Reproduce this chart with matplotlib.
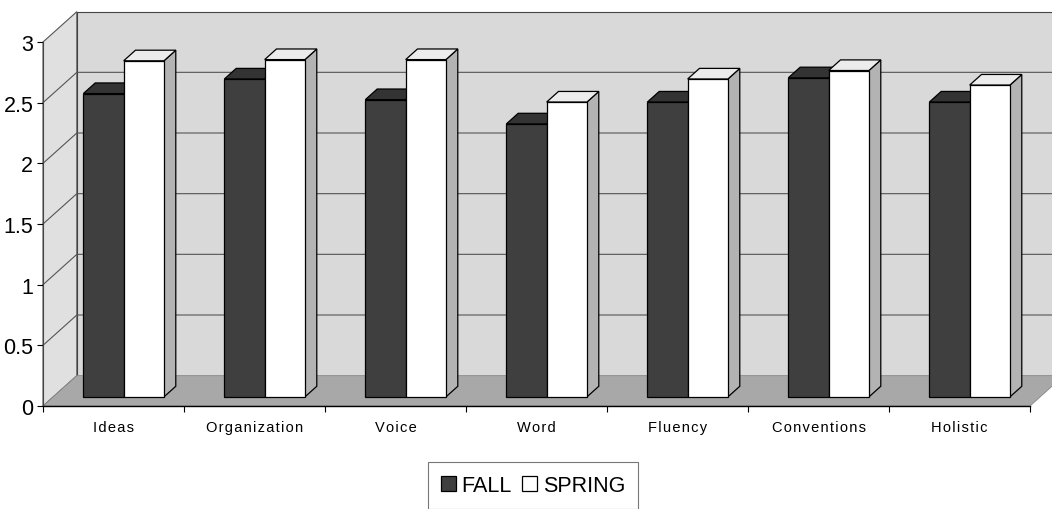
import matplotlib.pyplot as plt
from matplotlib.patches import Polygon, Patch

categories = ['Ideas', 'Organization', 'Voice', 'Word', 'Fluency', 'Conventions', 'Holistic']
fall = [2.50, 2.62, 2.45, 2.25, 2.43, 2.63, 2.43]
spring = [2.77, 2.78, 2.78, 2.43, 2.62, 2.69, 2.57]
yticks = [0, 0.5, 1, 1.5, 2, 2.5, 3]
ytick_labels = ['0', '0.5', '1', '1.5', '2', '2.5', '3']

DX, DY = 0.24, 0.25          # oblique depth offset (category units, value units)
Z0, Z1 = 0.30, 0.65          # bar depth span
W = 1 / 3.5                  # bar width, gap width 150%
YMAX = 3

plt.rcParams['font.family'] = ['Liberation Sans', 'DejaVu Sans']

def P(x, y, z):
    return (x + z * DX, y + z * DY)

def poly(ax, pts, fc, ec='black', lw=0.9, z=2):
    ax.add_patch(Polygon([P(*p) for p in pts], closed=True, fc=fc, ec=ec, lw=lw, zorder=z, clip_on=False))

fig = plt.figure(figsize=(10.52, 5.10), dpi=100)
ax = fig.add_axes([43 / 1052, 103 / 510, 987 / 1052, 364 / 510])
n = len(categories)
ax.set_xlim(0, n); ax.set_ylim(0, YMAX)

# walls and floor
poly(ax, [(0, 0, 0), (0, 0, 1), (0, YMAX, 1), (0, YMAX, 0)], '#e0e0e0', ec='#555555', lw=0.8, z=0.5)
poly(ax, [(0, 0, 1), (n, 0, 1), (n, YMAX, 1), (0, YMAX, 1)], '#d9d9d9', ec='#444444', lw=0.8, z=0.5)
for y in yticks[1:-1]:
    xs, ys = zip(P(0, y, 0), P(0, y, 1), P(n, y, 1))
    ax.plot(xs, ys, color='#555555', lw=0.8, zorder=0.8, clip_on=False)
poly(ax, [(0, 0, 0), (n, 0, 0), (n, 0, 1), (0, 0, 1)], '#a8a8a8', ec='#888888', lw=0.6, z=1)

# bars
for i in range(n):
    c = i + 0.5
    for x0, v, front, top, side in [(c - W, fall[i], '#3f3f3f', '#333333', '#2a2a2a'),
                                    (c, spring[i], '#ffffff', '#ececec', '#b3b3b3')]:
        x1 = x0 + W
        poly(ax, [(x1, 0, Z0), (x1, 0, Z1), (x1, v, Z1), (x1, v, Z0)], side)
        poly(ax, [(x0, v, Z0), (x1, v, Z0), (x1, v, Z1), (x0, v, Z1)], top)
        poly(ax, [(x0, 0, Z0), (x1, 0, Z0), (x1, v, Z0), (x0, v, Z0)], front)

# axes
for s in ['top', 'right']: ax.spines[s].set_visible(False)
ax.spines['left'].set_color('#444444'); ax.spines['left'].set_linewidth(0.8)
ax.spines['bottom'].set_linewidth(1.0)
ax.set_facecolor('none')
ax.set_yticks(yticks, ytick_labels, fontsize=15.5)
ax.tick_params(axis='y', length=4, width=0.8, pad=3)
ax.set_xticks(range(n + 1), [''] * (n + 1))
spaced = ['\u200a'.join(c) for c in categories]   # letter-spaced like the original
ax.set_xticks([i + 0.5 for i in range(n)], spaced, minor=True, fontsize=10.5)
ax.tick_params(axis='x', which='major', length=4, width=0.8)
ax.tick_params(axis='x', which='minor', length=0, pad=10)

handles = [Patch(fc='#3f3f3f', ec='black', lw=0.9, label='FALL'),
           Patch(fc='white', ec='black', lw=0.9, label='SPRING')]
leg = fig.legend(handles=handles, loc='upper center', bbox_to_anchor=(533 / 1052, 47 / 510), ncol=2,
                 fontsize=15.5, frameon=True, fancybox=False, handlelength=0.7, handleheight=0.7,
                 handletextpad=0.25, columnspacing=0.5, borderpad=0.6, borderaxespad=0)
leg.get_frame().set_edgecolor('#555555'); leg.get_frame().set_linewidth(0.8)

fig.savefig('out.png', dpi=100)
